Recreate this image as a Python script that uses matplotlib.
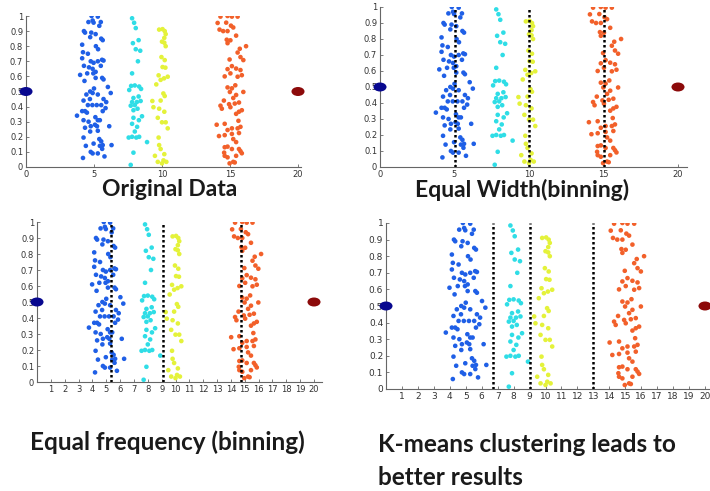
import matplotlib
matplotlib.use("Agg")
import matplotlib.pyplot as plt
from matplotlib.markers import MarkerStyle
from matplotlib.transforms import Affine2D

# ---- data: four 1-D groups, jittered in y for display, plus two outliers ----
blue_x = [4.82, 5.28, 4.59, 4.97, 5.39, 4.26, 4.34, 4.80, 5.12, 5.53, 5.64, 4.72,
          4.13, 5.14, 4.19, 4.55, 4.13, 4.76, 4.97, 5.28, 5.59, 5.70, 4.26, 4.63,
          4.90, 5.12, 5.50, 3.98, 5.12, 5.60, 4.30, 6.02, 4.72, 4.90, 6.23, 4.44,
          5.28, 4.23, 5.70, 5.90, 4.55, 4.88, 5.20, 5.53, 5.85, 4.13, 4.34, 4.48,
          5.64, 3.75, 4.23, 5.28, 5.43, 4.76, 5.07, 5.22, 6.12, 4.34, 4.72, 5.28,
          4.23, 5.39, 5.53, 4.97, 5.64, 6.29, 4.76, 4.90, 5.28, 5.77, 4.19, 5.43,
          5.60, 4.60, 5.00, 4.50, 5.30, 4.90, 5.70, 4.70, 5.10, 4.40, 5.50, 4.95]
blue_y = [1.00, 0.996, 0.96, 0.956, 0.935, 0.90, 0.89, 0.89, 0.88, 0.85, 0.84, 0.86,
          0.81, 0.80, 0.76, 0.75, 0.72, 0.70, 0.69, 0.70, 0.71, 0.705, 0.67, 0.66,
          0.65, 0.63, 0.67, 0.61, 0.59, 0.59, 0.57, 0.53, 0.50, 0.49, 0.49, 0.48,
          0.48, 0.44, 0.45, 0.43, 0.41, 0.41, 0.41, 0.41, 0.39, 0.37, 0.37, 0.36,
          0.37, 0.34, 0.31, 0.31, 0.31, 0.27, 0.28, 0.27, 0.27, 0.26, 0.235, 0.24,
          0.195, 0.185, 0.17, 0.155, 0.145, 0.145, 0.10, 0.09, 0.09, 0.07, 0.06, 0.14,
          0.12, 0.30, 0.52, 0.62, 0.78, 0.97, 0.58, 0.45, 0.33, 0.14, 0.96, 0.62]

cyan_x = [7.80, 7.95, 8.07, 8.28, 7.86, 8.07, 8.40, 8.23, 7.80, 7.73, 8.00, 8.32,
          8.46, 7.59, 8.28, 7.90, 7.80, 8.15, 8.43, 7.70, 8.00, 7.90, 8.20, 8.53,
          7.90, 8.30, 7.80, 8.17, 8.00, 7.55, 7.80, 8.11, 8.32, 8.90, 7.90, 7.70]
cyan_y = [0.985, 0.955, 0.92, 0.84, 0.82, 0.78, 0.77, 0.70, 0.62, 0.537, 0.54, 0.533,
          0.517, 0.51, 0.467, 0.457, 0.43, 0.43, 0.437, 0.406, 0.41, 0.376, 0.386, 0.336,
          0.326, 0.31, 0.286, 0.266, 0.235, 0.195, 0.20, 0.195, 0.20, 0.165, 0.095, 0.014]

yellow_x = [9.79, 10.04, 10.20, 10.27, 10.17, 10.00, 10.17, 10.27, 9.96, 10.20, 10.04,
            10.25, 9.75, 10.42, 9.90, 10.15, 9.58, 10.10, 10.20, 9.29, 9.90, 9.79, 9.37,
            10.17, 9.69, 10.00, 10.27, 10.42, 9.75, 9.79, 9.90, 10.17, 10.11, 10.32,
            10.00, 9.48, 9.69]
yellow_y = [0.91, 0.913, 0.90, 0.88, 0.855, 0.83, 0.823, 0.80, 0.728, 0.708, 0.662,
            0.658, 0.607, 0.598, 0.577, 0.587, 0.547, 0.487, 0.47, 0.437, 0.44, 0.386,
            0.396, 0.366, 0.326, 0.296, 0.296, 0.256, 0.195, 0.145, 0.119, 0.085, 0.044,
            0.034, 0.024, 0.074, 0.034]

orange_x = [14.30, 14.82, 15.14, 15.56, 14.09, 14.72, 15.07, 14.23, 14.50, 14.82, 15.24,
            15.45, 14.76, 15.03, 14.82, 16.18, 15.72, 15.56, 15.77, 14.97, 15.98, 15.14,
            14.82, 15.45, 15.77, 15.03, 14.61, 15.56, 15.87, 15.39, 14.82, 15.14, 15.98,
            14.99, 15.45, 15.24, 14.55, 15.66, 14.30, 14.93, 15.35, 14.40, 15.03, 15.87,
            15.66, 15.45, 14.02, 14.61, 15.62, 15.14, 15.56, 15.77, 14.82, 14.19, 14.61,
            15.14, 15.66, 15.24, 15.45, 14.61, 14.82, 15.14, 15.66, 15.87, 14.57, 14.82,
            15.45, 15.24, 14.97, 15.77, 14.61, 15.35]
orange_y = [0.996, 1.00, 0.996, 0.996, 0.954, 0.956, 0.936, 0.91, 0.90, 0.90, 0.924,
            0.87, 0.843, 0.839, 0.82, 0.80, 0.783, 0.758, 0.728, 0.712, 0.708, 0.668,
            0.648, 0.652, 0.642, 0.62, 0.60, 0.598, 0.608, 0.541, 0.527, 0.521, 0.497,
            0.497, 0.477, 0.457, 0.44, 0.427, 0.406, 0.416, 0.42, 0.386, 0.396, 0.376,
            0.366, 0.352, 0.28, 0.286, 0.306, 0.256, 0.256, 0.266, 0.245, 0.205, 0.211,
            0.219, 0.225, 0.185, 0.165, 0.131, 0.135, 0.119, 0.119, 0.091, 0.095, 0.064,
            0.074, 0.034, 0.024, 0.105, 0.074, 0.03]

outlier_x = [0, 20]
outlier_y = [0.5, 0.5]

# bin edges produced by each discretisation method
equal_width_edges = [5, 10, 15]
equal_freq_edges = [5.35, 9.1, 14.7]
kmeans_edges = [6.7, 9.0, 13.0]

panel_titles = ["Original Data", "Equal Width(binning)",
                "Equal frequency (binning)", "K-means clustering leads to\nbetter results"]

groups = [(blue_x, blue_y, "#1f5fe6"), (cyan_x, cyan_y, "#2fdde6"),
          (yellow_x, yellow_y, "#e4f23a"), (orange_x, orange_y, "#f2602a")]
outlier_colors = ["#08088f", "#8c0a0a"]

W, H = 710, 491
fig = plt.figure(figsize=(W / 100, H / 100), dpi=100)


def px_axes(x0, x20, y0, y1, xmax):
    """Create axes from pixel positions of x=0, x=20, y=0 and y=1."""
    per = (x20 - x0) / 20.0
    left = x0 / W
    width = per * xmax / W
    bottom = 1 - y0 / H
    height = (y0 - y1) / H
    ax = fig.add_axes([left, bottom, width, height])
    ax.set_xlim(0, xmax)
    ax.set_ylim(0, 1)
    return ax


axes = [
    px_axes(26, 298, 167, 16, 20.2),
    px_axes(380, 678, 167, 7, 20.6),
    px_axes(37, 314, 382, 222, 20.6),
    px_axes(386, 705, 389, 223, 20.6),
]
edges = [None, equal_width_edges, equal_freq_edges, kmeans_edges]
xticks = [[0, 5, 10, 15, 20], [0, 5, 10, 15, 20], list(range(1, 21)), list(range(1, 21))]
label_sizes = [6, 6, 6, 6.5]
ellipse = MarkerStyle("o", transform=Affine2D().scale(1.45, 1.0))

for ax, e, xt, ls in zip(axes, edges, xticks, label_sizes):
    for gx, gy, c in groups:
        ax.scatter(gx, gy, s=11, color=c, edgecolors="none", zorder=3)
    for ox, oy, c in zip(outlier_x, outlier_y, outlier_colors):
        ax.scatter([ox], [oy], s=42, color=c, marker=ellipse, edgecolors="none",
                   zorder=4, clip_on=False)
    if e is not None:
        for v in e:
            ax.plot([v, v], [0, 1], color="black", linestyle=(0, (1, 1)),
                    linewidth=1.8, zorder=5)
    for s in ("top", "right"):
        ax.spines[s].set_visible(False)
    for s in ("left", "bottom"):
        ax.spines[s].set_color("#666666")
        ax.spines[s].set_linewidth(0.8)
    ax.set_xticks(xt)
    ax.set_xticklabels([str(v) for v in xt])
    yt = [i / 10 for i in range(11)]
    ax.set_yticks(yt)
    ax.set_yticklabels(["0"] + [f"{v:.1f}" for v in yt[1:-1]] + ["1"])
    ax.tick_params(direction="in", length=2.5, width=0.6, colors="#666666",
                   labelcolor="#333333", labelsize=ls, pad=2)

top_font = dict(family="Lato", fontweight="bold", fontsize=16.5, color="#1a1a1a")
bottom_font = dict(family="Lato", fontweight="bold", fontsize=17.5, color="#1a1a1a")
fig.text(170 / W, 1 - 190 / H, panel_titles[0], ha="center", va="center", **top_font)
fig.text(522 / W, 1 - 190 / H, panel_titles[1], ha="center", va="center", **top_font)
fig.text(30 / W, 1 - 442 / H, panel_titles[2], ha="left", va="center", **bottom_font)
fig.text(378 / W, 1 - 461 / H, panel_titles[3], ha="left", va="center",
         linespacing=1.5, **bottom_font)

fig.savefig("out.png", dpi=100, facecolor="white")
